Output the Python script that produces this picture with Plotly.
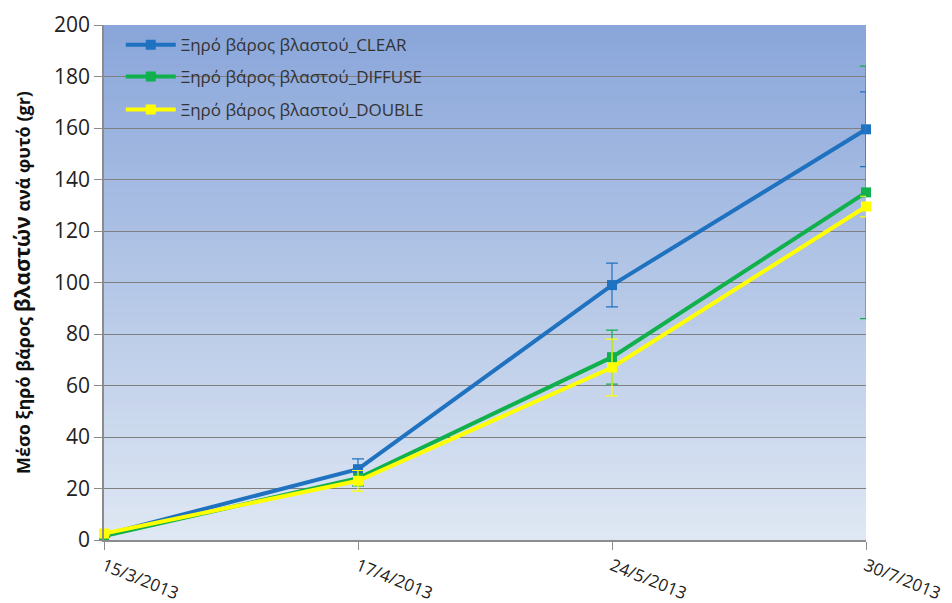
import plotly.graph_objects as go

dates = ["15/3/2013", "17/4/2013", "24/5/2013", "30/7/2013"]
clear_vals = [2.0, 27.5, 99.0, 159.5]
clear_err = [0.5, 4.0, 8.5, 14.5]
diffuse_vals = [1.5, 24.0, 71.0, 135.0]
diffuse_err = [0.5, 3.0, 10.5, 49.0]
double_vals = [2.5, 23.0, 67.0, 129.5]
double_err = [0.5, 4.0, 11.0, 4.0]
names = ["Ξηρό βάρος βλαστού_CLEAR", "Ξηρό βάρος βλαστού_DIFFUSE", "Ξηρό βάρος βλαστού_DOUBLE"]
colors = ["#1F72C0", "#10B04C", "#FFFF00"]
yticks = [0, 20, 40, 60, 80, 100, 120, 140, 160, 180, 200]

legend_ids = ["legend", "legend2", "legend3"]
legend_y = [0.961, 0.899, 0.835]

fig = go.Figure()
for name, vals, err, col, lg in zip(names, [clear_vals, diffuse_vals, double_vals],
                                    [clear_err, diffuse_err, double_err], colors, legend_ids):
    fig.add_trace(go.Scatter(
        x=dates, y=vals, name=name, mode="lines+markers",
        line=dict(color=col, width=4),
        marker=dict(symbol="square", size=10, color=col),
        error_y=dict(type="data", array=err, visible=True, color=col, thickness=1.2, width=6),
        cliponaxis=False, legend=lg,
    ))

# gradient background
n = 60
top = (138, 166, 218)
bot = (222, 231, 243)
for i in range(n):
    t = i / (n - 1)
    c = tuple(int(round(top[k] + (bot[k] - top[k]) * t)) for k in range(3))
    fig.add_shape(type="rect", xref="x domain", yref="y domain",
                  x0=0, x1=1, y0=max(0, 1 - (i + 1) / n - 0.004), y1=1 - i / n,
                  fillcolor="rgb(%d,%d,%d)" % c, line=dict(width=0), layer="below")

legend_style = dict(x=0.022, xanchor="left", yanchor="middle",
                    bgcolor="rgba(0,0,0,0)", font=dict(size=17, color="#333"), itemwidth=50)

fig.update_layout(
    width=944, height=595,
    margin=dict(l=96, r=86, t=17, b=63),
    paper_bgcolor="white",
    plot_bgcolor="rgba(0,0,0,0)",
    font=dict(family="Open Sans, Liberation Sans, Arial", color="#222"),
    showlegend=True,
    legend=dict(y=legend_y[0], **legend_style),
    legend2=dict(y=legend_y[1], **legend_style),
    legend3=dict(y=legend_y[2], **legend_style),
)
fig.update_xaxes(type="category", range=[0, 3], showgrid=False, automargin=False,
                 showline=True, linecolor="#8c8c8c", linewidth=1.5,
                 ticks="outside", ticklen=8, tickcolor="#8c8c8c",
                 tickangle=22, tickfont=dict(size=17, color="#222"))
fig.update_yaxes(range=[0, 200], tickvals=yticks, showgrid=True, gridcolor="#7f7f7f", gridwidth=1,
                 automargin=False,
                 showline=True, linecolor="#8c8c8c", linewidth=1.5,
                 ticks="outside", ticklen=8, tickcolor="#8c8c8c",
                 tickfont=dict(size=21, color="#222"), zeroline=False,
                 title=dict(text="<b>Μέσο ξηρό βάρος <span style='font-size:21px'>βλαστών</span> ανά φυτό (gr)</b>",
                            font=dict(size=18, color="#111"), standoff=22))

fig.write_html("out.html")
